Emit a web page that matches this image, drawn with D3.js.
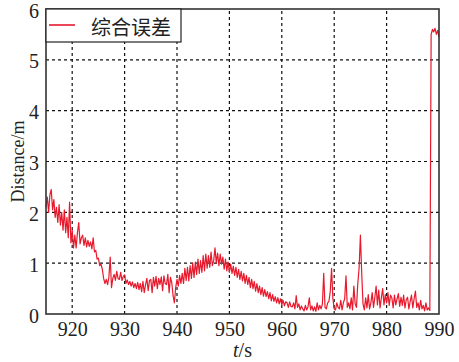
<!DOCTYPE html>
<html><head><meta charset="utf-8">
<script src="https://cdn.jsdelivr.net/npm/d3@7/dist/d3.min.js"></script>
<style>body{margin:0;background:#fff;}svg{display:block;}
.serif{font-family:'Liberation Serif','Times New Roman',serif;}
</style>
</head><body>
<script>
// ---- data ----
const tStart = 915;          // first sample time (s)
const tStep = 0.25;          // sample spacing (s)
const distance = [
 2.1,2.3,2.0,2.35, 2.45,2.05,2.25,1.9, 2.1,1.8,2.15,1.75, 2.0,1.65,2.05,1.6,
 1.9,1.5,2.2,1.4, 1.65,1.3,1.55,1.3, 1.6,1.8,1.38,1.5, 1.55,1.35,1.5,1.32,
 1.45,1.33,1.42,1.28, 1.5,1.22,1.25,1.08, 1.1,0.95,0.98,0.88, 0.7,0.6,0.68,0.58,
 0.72,1.12,0.52,0.7, 0.78,0.66,0.84,0.7, 0.68,0.82,0.66,0.74, 0.77,0.6,0.67,0.58,
 0.64,0.55,0.63,0.52, 0.6,0.5,0.62,0.48, 0.6,0.44,0.64,0.42, 0.58,0.7,0.46,0.66,
 0.68,0.42,0.72,0.55, 0.74,0.5,0.7,0.58, 0.73,0.46,0.75,0.6, 0.58,0.78,0.42,0.72,
 0.62,0.36,0.22,0.52, 0.68,0.55,0.76,0.6, 0.8,0.6,0.9,0.66, 0.92,0.65,0.95,0.7,
 1.0,0.72,1.02,0.78, 1.08,0.8,1.05,0.82, 1.15,0.85,1.18,0.9, 1.15,0.92,1.22,0.95,
 1.05,1.3,1.0,1.2, 0.95,1.18,0.98,1.12, 0.88,1.08,0.85,1.02, 0.82,0.98,0.8,0.94,
 0.76,0.92,0.72,0.88, 0.68,0.84,0.65,0.8, 0.6,0.76,0.58,0.72, 0.52,0.68,0.5,0.64,
 0.45,0.6,0.42,0.55, 0.38,0.52,0.35,0.48, 0.34,0.44,0.3,0.42, 0.26,0.38,0.25,0.34,
 0.22,0.32,0.2,0.3, 0.18,0.27,0.16,0.24, 0.22,0.13,0.24,0.15, 0.14,0.22,0.1,0.36,
 0.13,0.2,0.08,0.16, 0.1,0.06,0.17,0.08, 0.14,0.32,0.08,0.16, 0.06,0.14,0.05,0.22,
 0.08,0.17,0.1,0.2, 0.8,0.13,0.1,0.22, 0.25,0.45,0.9,0.3, 0.1,0.08,0.22,0.13,
 0.1,0.27,0.08,0.22, 0.3,0.75,0.13,0.22, 0.1,0.32,0.08,0.55, 0.2,0.13,0.6,0.9,
 1.55,0.8,0.2,0.08, 0.32,0.12,0.38,0.1, 0.22,0.42,0.13,0.32, 0.55,0.18,0.47,0.12,
 0.32,0.5,0.18,0.38, 0.22,0.42,0.17,0.37, 0.32,0.12,0.37,0.18, 0.3,0.4,0.15,0.33,
 0.17,0.37,0.12,0.28, 0.33,0.1,0.25,0.37, 0.12,0.3,0.45,0.13, 0.22,0.08,0.27,0.1,
 0.17,0.06,0.22,0.08, 0.12,0.07,5.5,5.6, 5.55,5.62,5.5,5.58, 5.45
];
const xTicks = [920, 930, 940, 950, 960, 970, 980, 990];
const yTicks = [0, 1, 2, 3, 4, 5, 6];
const seriesName = "综合误差";
const xLabelItalic = "t";
const xLabelRest = "/s";
const yLabel = "Distance/m";

// ---- layout ----
const W = 459, H = 362;
const m = {left: 46, top: 9, right: 20, bottom: 48};
const svg = d3.select("body").append("svg").attr("width", W).attr("height", H);
const x = d3.scaleLinear().domain([915, 990]).range([m.left, W - m.right]);
const y = d3.scaleLinear().domain([0, 6]).range([H - m.bottom, m.top]);

// grid
const grid = svg.append("g").attr("stroke", "#111").attr("stroke-width", 1.2).attr("stroke-dasharray", "3,3");
grid.selectAll("line.v").data(xTicks.filter(d => d < 990)).enter().append("line")
  .attr("x1", d => x(d)).attr("x2", d => x(d)).attr("y1", y(0)).attr("y2", y(6));
grid.selectAll("line.h").data(yTicks.filter(d => d > 0 && d < 6)).enter().append("line")
  .attr("x1", x(915)).attr("x2", x(990)).attr("y1", d => y(d)).attr("y2", d => y(d));

// data line
const pts = distance.map((v, i) => [tStart + i * tStep, v]);
svg.append("path").datum(pts)
  .attr("fill", "none").attr("stroke", "#e8192c").attr("stroke-width", 1.2)
  .attr("stroke-linejoin", "round")
  .attr("d", d3.line().x(d => x(d[0])).y(d => y(d[1])));

// axes (labels only, no tick marks)
const xAxis = svg.append("g").attr("transform", `translate(0,${y(0)})`)
  .call(d3.axisBottom(x).tickValues(xTicks).tickSize(0).tickPadding(8));
const yAxis = svg.append("g").attr("transform", `translate(${x(915)},0)`)
  .call(d3.axisLeft(y).tickValues(yTicks).tickSize(0).tickPadding(7).tickFormat(d3.format("d")));
[xAxis, yAxis].forEach(a => {
  a.attr("font-family", null).attr("font-size", null);
  a.select(".domain").remove();
  a.selectAll("text").attr("class", "serif").style("font-size", "20px").attr("fill", "#222");
});
yAxis.selectAll("text").attr("dy", "0.4em");

// frame
svg.append("rect").attr("x", x(915)).attr("y", y(6))
  .attr("width", x(990) - x(915)).attr("height", y(0) - y(6))
  .attr("fill", "none").attr("stroke", "#333").attr("stroke-width", 1.6);

// axis titles
const xt = svg.append("text").attr("class", "serif").attr("x", (x(915) + x(990)) / 2).attr("y", 357)
  .attr("text-anchor", "middle").style("font-size", "20px").attr("fill", "#222");
xt.append("tspan").style("font-style", "italic").text(xLabelItalic);
xt.append("tspan").text(xLabelRest);
svg.append("text").attr("class", "serif").attr("transform", `translate(24,${(y(0) + y(6)) / 2}) rotate(-90)`)
  .attr("text-anchor", "middle").style("font-size", "18px").attr("fill", "#222")
  .text(yLabel);

// legend
const lg = svg.append("g");
lg.append("rect").attr("x", x(915)).attr("y", y(6)).attr("width", 135).attr("height", 33)
  .attr("fill", "#fff").attr("stroke", "#222").attr("stroke-width", 1.2);
lg.append("line").attr("x1", x(915) + 3).attr("x2", x(915) + 29).attr("y1", y(6) + 16).attr("y2", y(6) + 16)
  .attr("stroke", "#e8192c").attr("stroke-width", 1.6);
lg.append("text").attr("x", x(915) + 45).attr("y", y(6) + 17).attr("dominant-baseline", "central")
  .style("font-family", "'Noto Sans CJK SC',sans-serif").style("font-size", "20px").attr("fill", "#222")
  .text(seriesName);
</script>
</body></html>
